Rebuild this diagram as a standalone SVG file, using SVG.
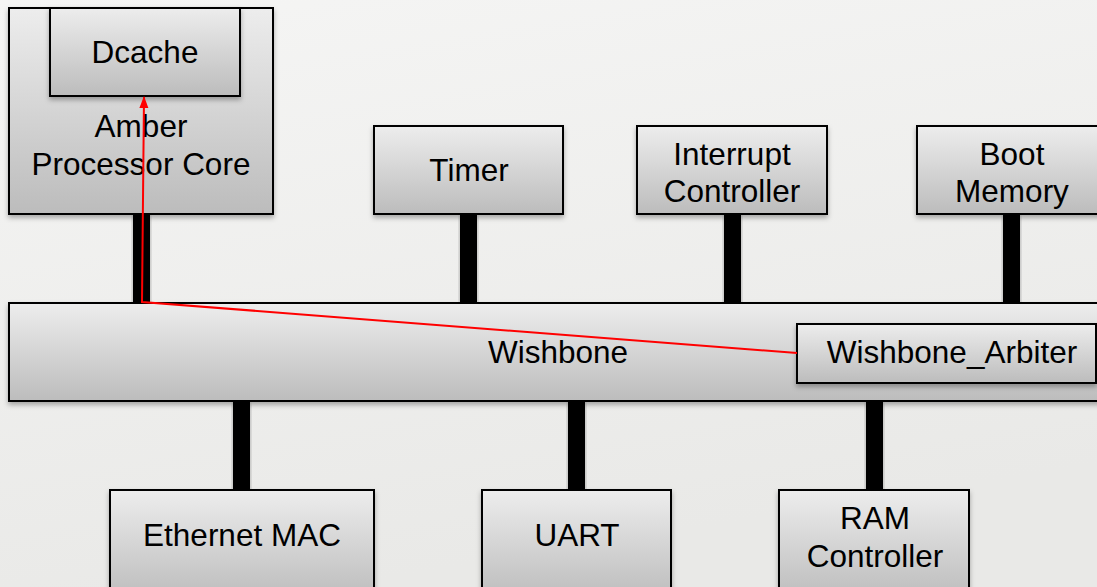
<svg xmlns="http://www.w3.org/2000/svg" width="1097" height="587" viewBox="0 0 1097 587">
  <defs>
    <linearGradient id="bg" x1="0" y1="0" x2="0.3" y2="1">
      <stop offset="0" stop-color="#f5f5f4"/>
      <stop offset="1" stop-color="#e9e9e7"/>
    </linearGradient>
    <linearGradient id="boxFill" x1="0" y1="0" x2="0" y2="1">
      <stop offset="0" stop-color="#ededed"/>
      <stop offset="1" stop-color="#bcbcbc"/>
    </linearGradient>
    <filter id="shadow" x="-10%" y="-10%" width="120%" height="130%">
      <feDropShadow dx="0" dy="3" stdDeviation="2.5" flood-color="#000" flood-opacity="0.3"/>
    </filter>
    <marker id="arrow" markerWidth="12" markerHeight="10" refX="11" refY="5" orient="auto" markerUnits="userSpaceOnUse">
      <path d="M0,0.5 L12,5 L0,9.5 Z" fill="#ff0000"/>
    </marker>
    <style>
      .box { fill: url(#boxFill); stroke: #000; stroke-width: 2; filter: url(#shadow); }
      .bus { fill: #000; filter: url(#shadow); }
      .label { font-family: "Liberation Sans", Arial, sans-serif; font-size: 31.5px; fill: #000; text-anchor: middle; }
      .path { fill: none; stroke: #ff0000; stroke-width: 2; }
    </style>
  </defs>

  <rect x="0" y="0" width="1097" height="587" fill="url(#bg)"/>

  <!-- bus stubs between modules and the Wishbone interconnect -->
  <g id="connectors">
    <rect class="bus" x="133" y="213" width="17" height="91"/>
    <rect class="bus" x="460" y="213" width="17" height="91"/>
    <rect class="bus" x="724" y="213" width="17" height="91"/>
    <rect class="bus" x="1003" y="213" width="17" height="91"/>
    <rect class="bus" x="233" y="400" width="17" height="91"/>
    <rect class="bus" x="568" y="400" width="17" height="91"/>
    <rect class="bus" x="866" y="400" width="17" height="91"/>
  </g>

  <g id="amber">
    <rect class="box" x="9" y="8" width="264" height="206"/>
    <text class="label" x="141" y="137">Amber</text>
    <text class="label" x="141" y="175">Processor Core</text>
  </g>
  <g id="dcache">
    <rect class="box" x="50" y="8" width="190" height="88"/>
    <text class="label" x="145" y="63">Dcache</text>
  </g>
  <g id="timer">
    <rect class="box" x="374" y="126" width="189" height="88"/>
    <text class="label" x="469" y="181">Timer</text>
  </g>
  <g id="interrupt">
    <rect class="box" x="637" y="126" width="190" height="88"/>
    <text class="label" x="732" y="165">Interrupt</text>
    <text class="label" x="732" y="202">Controller</text>
  </g>
  <g id="boot">
    <rect class="box" x="917" y="126" width="190" height="88"/>
    <text class="label" x="1012" y="165">Boot</text>
    <text class="label" x="1012" y="202">Memory</text>
  </g>

  <g id="wishbone">
    <rect class="box" x="9" y="303" width="1100" height="98"/>
    <text class="label" x="558" y="363">Wishbone</text>
  </g>
  <g id="arbiter">
    <rect class="box" x="797" y="324" width="299" height="59"/>
    <text class="label" x="952" y="363">Wishbone_Arbiter</text>
  </g>

  <g id="ethernet">
    <rect class="box" x="110" y="490" width="264" height="110"/>
    <text class="label" x="242" y="546">Ethernet MAC</text>
  </g>
  <g id="uart">
    <rect class="box" x="482" y="490" width="189" height="110"/>
    <text class="label" x="577" y="546">UART</text>
  </g>
  <g id="ram">
    <rect class="box" x="779" y="490" width="190" height="110"/>
    <text class="label" x="875" y="529">RAM</text>
    <text class="label" x="875" y="567">Controller</text>
  </g>

  <!-- request path from the arbiter back up to the data cache -->
  <g id="request-path">
    <polyline class="path" points="797,353 142,302 144,97" marker-end="url(#arrow)"/>
  </g>
</svg>
